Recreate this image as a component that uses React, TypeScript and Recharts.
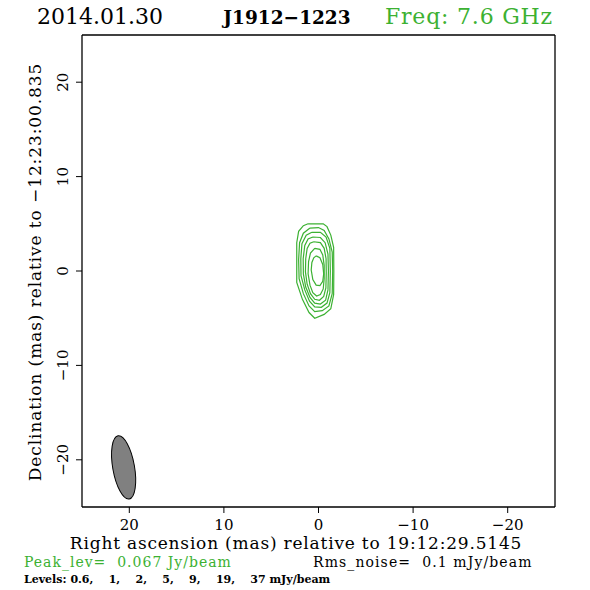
import { ScatterChart, Scatter, XAxis, YAxis } from 'recharts'

const GREEN = '#3cb132'
const FONT = '"DejaVu Serif", "Liberation Serif", serif'

// chart box in pixels
const W = 590
const H = 590
const LEFT = 82
const RIGHT = 35
const TOP = 35
const BOTTOM = 83
const RANGE = 25

const xTicks = [20, 10, 0, -10, -20]
const yTicks = [-20, -10, 0, 10, 20]

// contour levels, mJy/beam
const levels = [0.6, 1, 2, 5, 9, 19, 37]

// contours (RA offset, Dec offset in mas)
const c06 = [
  { x: 1.1, y: 5.0 }, { x: -0.5, y: 5.0 }, { x: -0.9, y: 4.7 }, { x: -1.3, y: 3.8 },
  { x: -1.6, y: 2.5 }, { x: -1.62, y: 0 }, { x: -1.6, y: -2.5 }, { x: -1.3, y: -4.0 },
  { x: -0.6, y: -4.6 }, { x: 0.4, y: -5.0 }, { x: 1.0, y: -4.4 }, { x: 1.7, y: -3.0 },
  { x: 2.3, y: -1.2 }, { x: 2.3, y: 1.0 }, { x: 2.3, y: 3.0 }, { x: 2.1, y: 4.2 },
  { x: 1.6, y: 4.8 }, { x: 1.1, y: 5.0 },
]
const c1 = [
  { x: 0.9, y: 4.55 }, { x: 0.0, y: 4.6 }, { x: -0.6, y: 4.3 }, { x: -1.1, y: 3.4 },
  { x: -1.45, y: 2.0 }, { x: -1.5, y: 0 }, { x: -1.45, y: -2.4 }, { x: -1.1, y: -3.7 },
  { x: -0.4, y: -4.2 }, { x: 0.4, y: -4.3 }, { x: 1.0, y: -3.7 }, { x: 1.6, y: -2.4 },
  { x: 2.05, y: -0.8 }, { x: 2.1, y: 1.2 }, { x: 2.0, y: 3.0 }, { x: 1.6, y: 4.0 },
  { x: 0.9, y: 4.55 },
]
const c2 = [
  { x: 0.7, y: 4.1 }, { x: -0.2, y: 4.1 }, { x: -0.8, y: 3.6 }, { x: -1.2, y: 2.4 },
  { x: -1.25, y: 0 }, { x: -1.2, y: -2.3 }, { x: -0.9, y: -3.4 }, { x: -0.3, y: -3.85 },
  { x: 0.4, y: -3.8 }, { x: 0.95, y: -3.2 }, { x: 1.45, y: -2.0 }, { x: 1.85, y: -0.5 },
  { x: 1.87, y: 1.3 }, { x: 1.75, y: 2.9 }, { x: 1.3, y: 3.8 }, { x: 0.7, y: 4.1 },
]
const c5 = [
  { x: 0.6, y: 3.6 }, { x: -0.2, y: 3.55 }, { x: -0.7, y: 3.0 }, { x: -1.0, y: 1.8 },
  { x: -1.05, y: 0 }, { x: -1.0, y: -2.0 }, { x: -0.75, y: -3.1 }, { x: -0.2, y: -3.5 },
  { x: 0.4, y: -3.4 }, { x: 0.9, y: -2.8 }, { x: 1.35, y: -1.7 }, { x: 1.6, y: -0.3 },
  { x: 1.62, y: 1.3 }, { x: 1.45, y: 2.7 }, { x: 1.1, y: 3.4 }, { x: 0.6, y: 3.6 },
]
const c9 = [
  { x: 0.5, y: 3.1 }, { x: -0.2, y: 3.0 }, { x: -0.6, y: 2.4 }, { x: -0.8, y: 1.3 },
  { x: -0.82, y: -0.2 }, { x: -0.78, y: -1.8 }, { x: -0.55, y: -2.7 }, { x: -0.1, y: -3.1 },
  { x: 0.4, y: -3.0 }, { x: 0.85, y: -2.4 }, { x: 1.2, y: -1.4 }, { x: 1.38, y: -0.1 },
  { x: 1.35, y: 1.3 }, { x: 1.2, y: 2.4 }, { x: 0.9, y: 2.95 }, { x: 0.5, y: 3.1 },
]
const c19 = [
  { x: 0.4, y: 2.4 }, { x: -0.15, y: 2.3 }, { x: -0.45, y: 1.7 }, { x: -0.6, y: 0.6 },
  { x: -0.6, y: -0.8 }, { x: -0.5, y: -1.9 }, { x: -0.2, y: -2.5 }, { x: 0.2, y: -2.65 },
  { x: 0.6, y: -2.3 }, { x: 0.9, y: -1.5 }, { x: 1.1, y: -0.3 }, { x: 1.05, y: 1.0 },
  { x: 0.85, y: 1.9 }, { x: 0.4, y: 2.4 },
]
const c37 = [
  { x: 0.25, y: 1.6 }, { x: -0.15, y: 1.4 }, { x: -0.45, y: 0.7 }, { x: -0.55, y: -0.3 },
  { x: -0.45, y: -1.1 }, { x: -0.15, y: -1.55 }, { x: 0.25, y: -1.5 }, { x: 0.6, y: -0.9 },
  { x: 0.77, y: 0.1 }, { x: 0.7, y: 0.9 }, { x: 0.5, y: 1.4 }, { x: 0.25, y: 1.6 },
]
const contours = [c06, c1, c2, c5, c9, c19, c37]

// restoring beam: centre, axes (mas), position angle (deg)
const beam = [{ x: 20.6, y: -20.8 }]
const beamMajor = 6.8
const beamMinor = 2.3
const beamPa = -10

const pxPerMasX = (W - LEFT - RIGHT) / (2 * RANGE)
const pxPerMasY = (H - TOP - BOTTOM) / (2 * RANGE)

const fmt = (v: number) => String(v).replace('-', '\u2212')

function BeamShape(props: any) {
  const { cx, cy } = props
  return (
    <ellipse
      cx={cx}
      cy={cy}
      rx={(beamMinor / 2) * pxPerMasX}
      ry={(beamMajor / 2) * pxPerMasY}
      transform={`rotate(${beamPa} ${cx} ${cy})`}
      fill="#808080"
      stroke="#000"
      strokeWidth={1}
    />
  )
}

function YTick(props: any) {
  const { x, y, payload } = props
  const bx = x - 6
  return (
    <text x={bx} y={y} transform={`rotate(-90 ${bx} ${y})`} textAnchor="middle"
      fontFamily={FONT} fontSize={15} fill="#000">
      {fmt(payload.value)}
    </text>
  )
}

const noDot = () => <g />

export default function App() {
  return (
    <div style={{ position: 'absolute', left: 0, top: 0, width: W, height: H, background: '#fff', fontFamily: FONT }}>
      <ScatterChart width={W} height={H} margin={{ top: 0, right: 0, bottom: 0, left: 0 }}>
        <XAxis xAxisId="b" type="number" dataKey="x" domain={[-RANGE, RANGE]} reversed allowDataOverflow
          ticks={xTicks} tickFormatter={fmt} height={BOTTOM} tickSize={6} tickMargin={6}
          axisLine={{ stroke: '#000', strokeWidth: 1.3 }} tickLine={{ stroke: '#000' }}
          tick={{ fill: '#000', fontSize: 15, fontFamily: FONT }} />
        <XAxis xAxisId="t" orientation="top" type="number" dataKey="x" domain={[-RANGE, RANGE]} reversed
          allowDataOverflow ticks={xTicks} height={TOP} tickSize={6} tick={false}
          axisLine={{ stroke: '#000', strokeWidth: 1.3 }} tickLine={{ stroke: '#000' }} />
        <YAxis yAxisId="l" type="number" dataKey="y" domain={[-RANGE, RANGE]} allowDataOverflow
          ticks={yTicks} width={LEFT} tickSize={6} tick={<YTick />}
          axisLine={{ stroke: '#000', strokeWidth: 1.3 }} tickLine={{ stroke: '#000' }} />
        <YAxis yAxisId="r" orientation="right" type="number" dataKey="y" domain={[-RANGE, RANGE]}
          allowDataOverflow ticks={yTicks} width={RIGHT} tickSize={6} tick={false}
          axisLine={{ stroke: '#000', strokeWidth: 1.3 }} tickLine={{ stroke: '#000' }} />
        {contours.map((c, i) => (
          <Scatter key={levels[i]} name={`${levels[i]} mJy/beam`} data={c} xAxisId="b" yAxisId="l"
            line={{ stroke: GREEN, strokeWidth: 1.2 }} stroke={GREEN} shape={noDot}
            isAnimationActive={false} />
        ))}
        <Scatter name="beam" data={beam} xAxisId="b" yAxisId="l" shape={<BeamShape />} isAnimationActive={false} />
      </ScatterChart>
      <svg width={W} height={H} style={{ position: 'absolute', left: 0, top: 0, pointerEvents: 'none' }}
        fontFamily={FONT}>
        <text x={37} y={24} fontSize={22} fill="#000">2014.01.30</text>
        <text x={287} y={24} fontSize={18.5} fontWeight="bold" textAnchor="middle" fill="#000">J1912{'\u2212'}1223</text>
        <text x={553} y={24} fontSize={22} letterSpacing={0.8} textAnchor="end" fill={GREEN}>Freq: 7.6 GHz</text>
        <text x={296} y={549} fontSize={17} letterSpacing={0.8} textAnchor="middle" fill="#000">
          Right ascension (mas) relative to 19:12:29.5145
        </text>
        <text x={41} y={272} fontSize={17} letterSpacing={0.9} textAnchor="middle" fill="#000"
          transform="rotate(-90 41 272)">
          Declination (mas) relative to {'\u2212'}12:23:00.835
        </text>
        <text x={24} y={567} fontSize={14} letterSpacing={1} fill={GREEN} style={{ whiteSpace: 'pre' }}>
          {'Peak_lev=  0.067 Jy/beam'}
        </text>
        <text x={313} y={567} fontSize={14} letterSpacing={1.1} fill="#000" style={{ whiteSpace: 'pre' }}>
          {'Rms_noise=  0.1 mJy/beam'}
        </text>
        <text x={24} y={583} fontSize={11} fontWeight="bold" fill="#000" style={{ whiteSpace: 'pre' }}>
          {`Levels: ${levels.join(',    ')} mJy/beam`}
        </text>
      </svg>
    </div>
  )
}
